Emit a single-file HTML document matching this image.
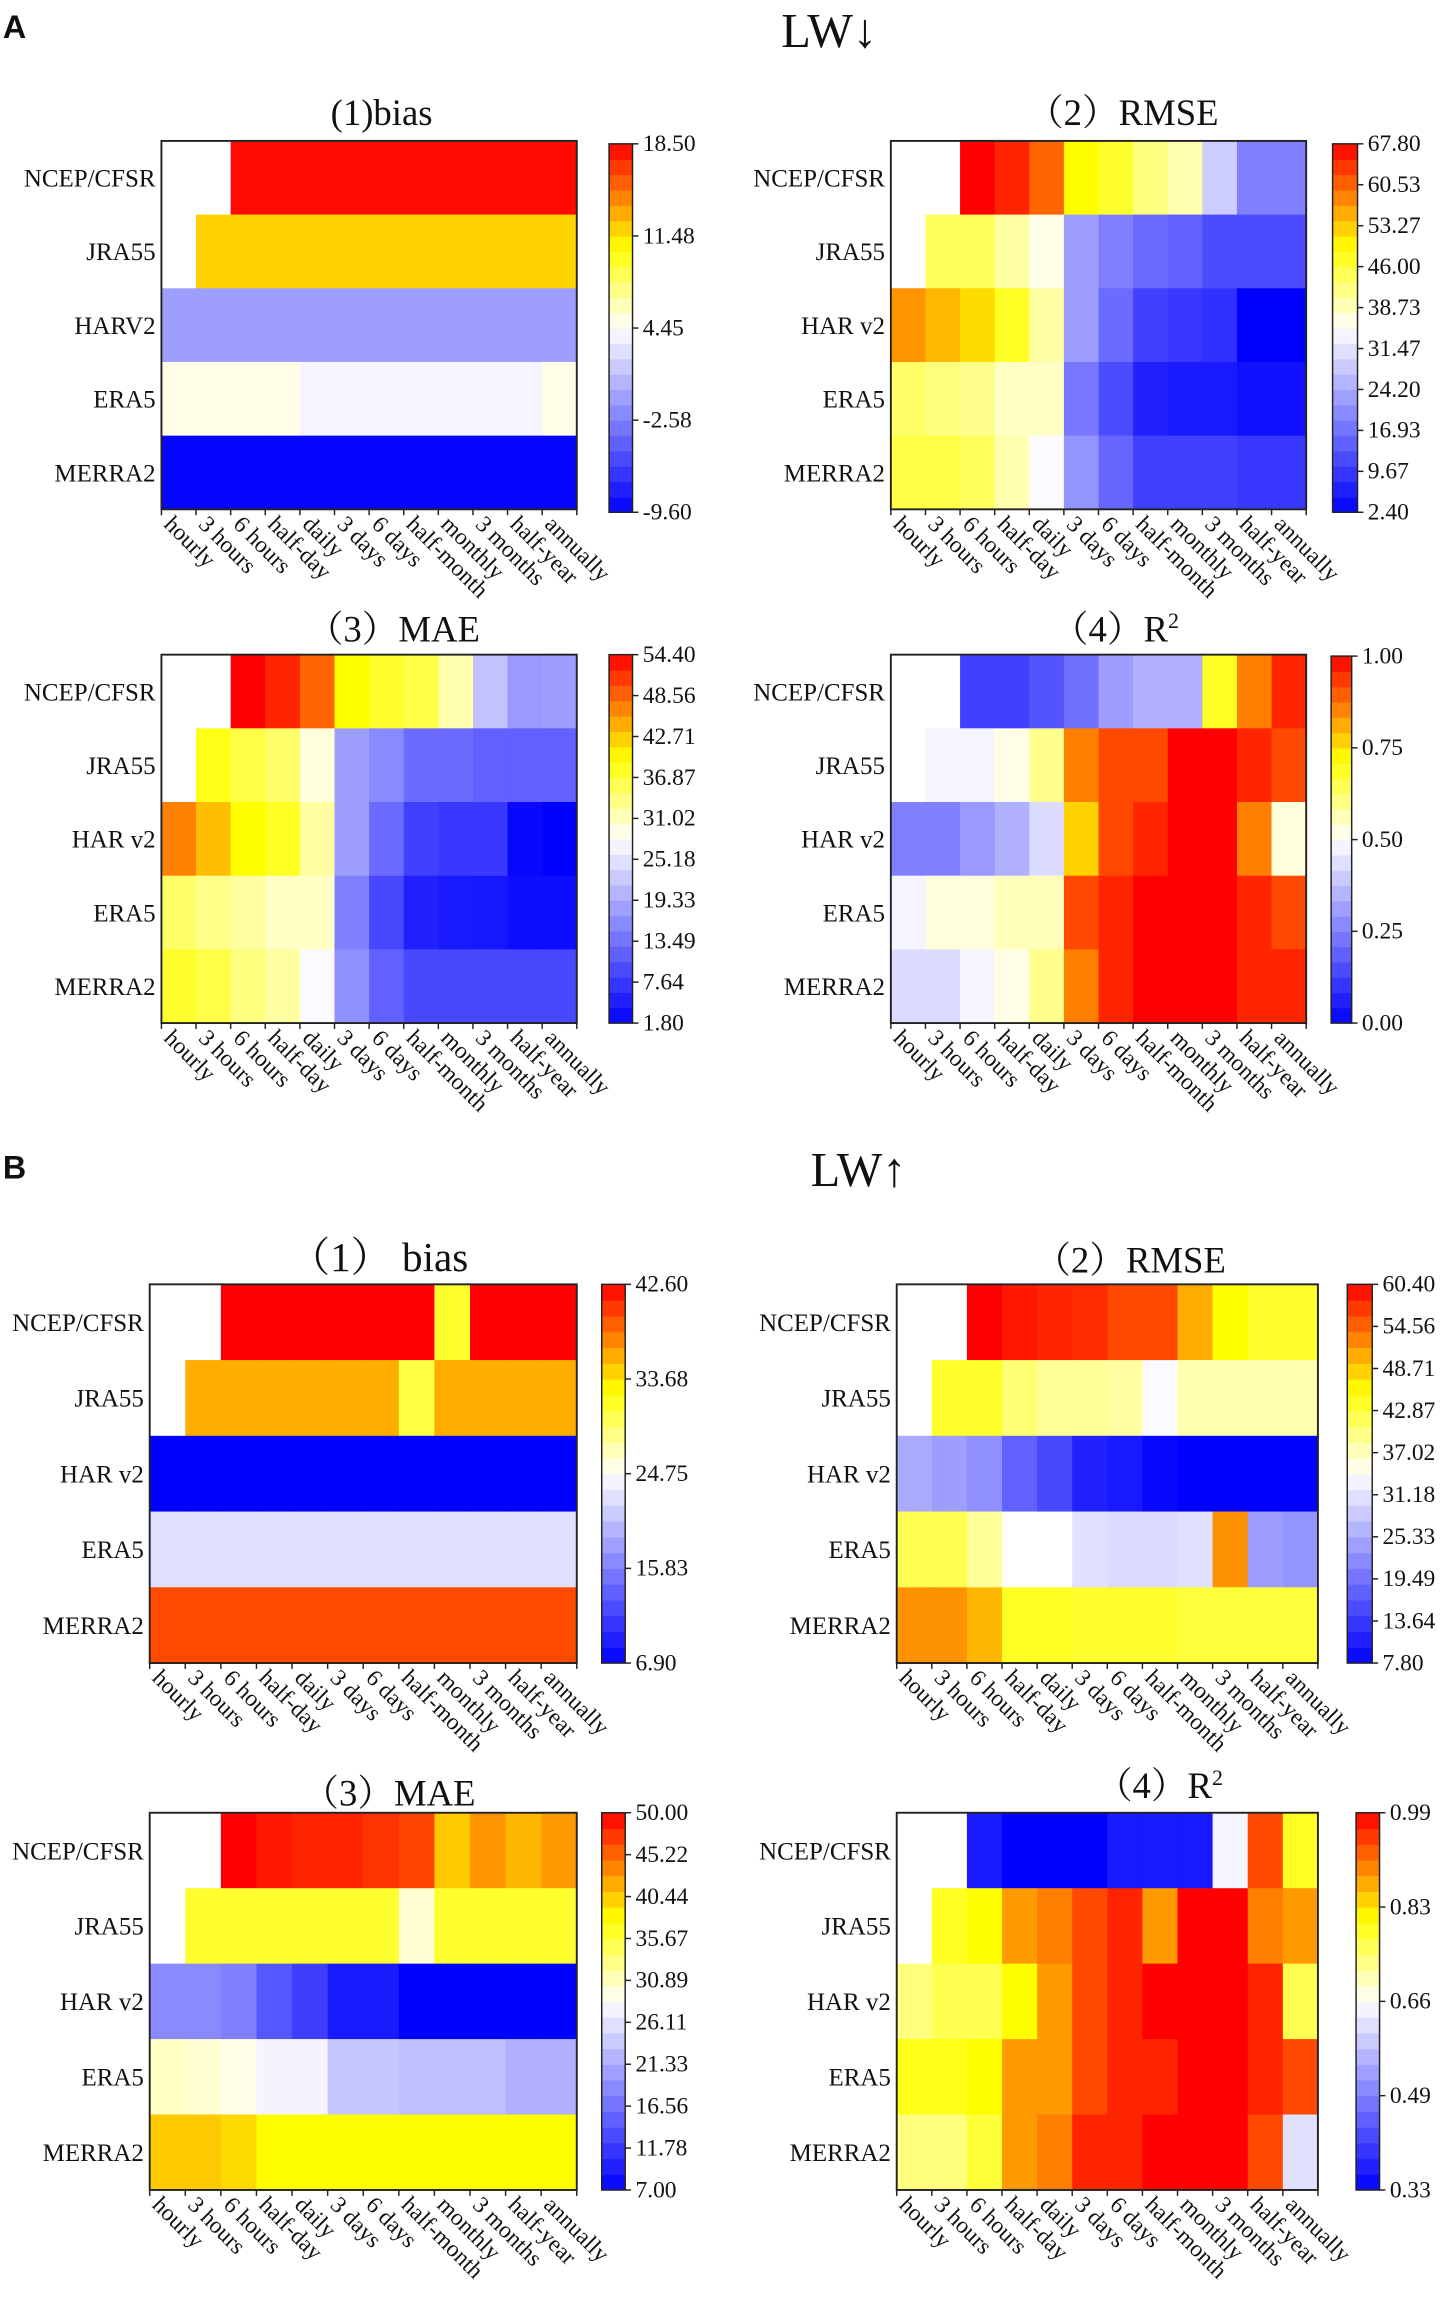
<!DOCTYPE html>
<html><head><meta charset="utf-8"><style>
html,body{margin:0;padding:0;background:#fff;}
svg{display:block;}
text{font-family:"Liberation Serif","Noto Serif CJK SC",serif;fill:#111;}
</style></head><body>
<svg id="fig" xmlns="http://www.w3.org/2000/svg" width="1450" height="2303" viewBox="0 0 988 1569" preserveAspectRatio="none">
<text x="2" y="26" style="font-family:'Liberation Sans',sans-serif;font-weight:bold;font-size:22px">A</text>
<text x="565" y="32" text-anchor="middle" font-size="33">LW↓</text>
<text x="2" y="803" style="font-family:'Liberation Sans',sans-serif;font-weight:bold;font-size:22px">B</text>
<text x="585" y="808" text-anchor="middle" font-size="33">LW↑</text>
</svg>
<script>
const categories = ["hourly","3 hours","6 hours","half-day","daily","3 days","6 days","half-month","monthly","3 months","half-year","annually"];
const rowsA1 = ["NCEP/CFSR","JRA55","HARV2","ERA5","MERRA2"];
const rowsStd = ["NCEP/CFSR","JRA55","HAR v2","ERA5","MERRA2"];
const N = null;

const a1Values = [
 [N,N,18.2,18.2,18.2,18.2,18.2,18.2,18.2,18.2,18.2,18.2],
 [N,12.0,12.0,12.0,12.0,12.0,12.0,12.0,12.0,12.0,12.0,12.0],
 [-0.9,-0.9,-0.9,-0.9,-0.9,-0.9,-0.9,-0.9,-0.9,-0.9,-0.9,-0.9],
 [5.0,5.0,5.0,5.0,3.9,3.9,3.9,3.9,3.9,3.9,3.9,5.0],
 [-9.3,-9.3,-9.3,-9.3,-9.3,-9.3,-9.3,-9.3,-9.3,-9.3,-9.3,-9.3]];
const a1Ticks = ["18.50","11.48","4.45","-2.58","-9.60"];

const a2Values = [
 [N,N,67.8,65.2,60.6,49.5,46.9,42.3,39.7,28.6,18.8,18.8],
 [N,44.3,44.3,40.3,36.4,22.7,18.8,16.1,14.8,12.2,12.2,12.2],
 [57.3,54.7,52.1,47.5,40.3,22.7,16.1,10.6,9.6,8.6,2.4,2.4],
 [43.6,42.3,41.6,38.4,38.4,17.8,12.2,6.6,5.7,5.7,4.4,4.4],
 [45.6,45.6,44.3,39.7,34.4,21.4,15.5,10.6,10.6,10.6,9.6,9.6]];
const a2Ticks = ["67.80","60.53","53.27","46.00","38.73","31.47","24.20","16.93","9.67","2.40"];

const a3Values = [
 [N,N,54.4,52.3,48.6,39.7,37.6,36.5,31.8,21.8,17.6,18.1],
 [N,38.6,36.5,35.0,29.7,18.1,16.0,12.8,12.8,11.8,11.8,11.8],
 [47.0,43.4,39.7,38.1,32.3,18.1,12.8,8.4,7.6,7.6,2.6,1.8],
 [35.0,33.4,32.3,30.7,30.7,15.0,9.2,5.2,4.4,4.2,3.1,3.1],
 [37.6,36.5,33.9,32.3,27.6,16.5,11.8,9.2,9.2,9.2,9.2,9.2]];
const a3Ticks = ["54.40","48.56","42.71","36.87","31.02","25.18","19.33","13.49","7.64","1.80"];

const a4Values = [
 [N,N,0.125,0.125,0.165,0.22,0.31,0.345,0.345,0.69,0.86,0.96],
 [N,0.48,0.48,0.52,0.60,0.86,0.92,0.92,1.0,1.0,0.96,0.92],
 [0.25,0.25,0.30,0.345,0.43,0.77,0.92,0.96,1.0,1.0,0.86,0.53],
 [0.48,0.53,0.53,0.56,0.56,0.92,0.96,1.0,1.0,1.0,0.96,0.92],
 [0.43,0.43,0.48,0.52,0.60,0.86,0.96,1.0,1.0,1.0,0.96,0.96]];
const a4Ticks = ["1.00","0.75","0.50","0.25","0.00"];

const b1Values = [
 [N,N,42.6,42.6,42.6,42.6,42.6,42.6,31.2,42.6,42.6,42.6],
 [N,35.8,35.8,35.8,35.8,35.8,35.8,30.5,35.8,35.8,35.8,35.8],
 [6.9,6.9,6.9,6.9,6.9,6.9,6.9,6.9,6.9,6.9,6.9,6.9],
 [22.6,22.6,22.6,22.6,22.6,22.6,22.6,22.6,22.6,22.6,22.6,22.6],
 [39.7,39.7,39.7,39.7,39.7,39.7,39.7,39.7,39.7,39.7,39.7,39.7]];
const b1Ticks = ["42.60","33.68","24.75","15.83","6.90"];

const b2Values = [
 [N,N,60.4,59.1,58.3,58.0,56.2,56.2,50.4,45.7,43.6,43.6],
 [N,43.6,43.6,40.4,38.8,38.8,38.3,33.6,37.8,37.8,37.8,37.8],
 [25.2,24.1,22.5,17.8,15.2,11.2,10.4,8.6,7.8,7.8,7.8,7.8],
 [42.0,42.0,38.8,34.1,34.1,31.0,30.4,30.4,31.0,52.0,24.1,23.1],
 [52.0,52.0,49.9,44.1,44.1,43.6,43.6,43.6,43.0,43.0,43.0,43.0]];
const b2Ticks = ["60.40","54.56","48.71","42.87","37.02","31.18","25.33","19.49","13.64","7.80"];

const b3Values = [
 [N,N,50.0,48.9,48.3,48.3,47.6,46.8,40.5,43.1,41.4,42.7],
 [N,36.2,36.2,36.2,36.2,36.2,36.2,30.2,36.2,36.2,36.2,36.2],
 [18.6,18.6,17.8,14.3,12.2,9.2,9.2,7.0,7.0,7.0,7.0,7.0],
 [30.7,30.2,29.4,27.6,27.6,23.8,23.8,23.1,23.1,23.1,21.8,21.8],
 [40.5,40.5,39.7,38.0,38.0,38.0,38.0,38.0,38.0,38.0,38.0,38.0]];
const b3Ticks = ["50.00","45.22","40.44","35.67","30.89","26.11","21.33","16.56","11.78","7.00"];

const b4Values = [
 [N,N,0.363,0.33,0.33,0.33,0.363,0.363,0.363,0.647,0.937,0.785],
 [N,0.785,0.805,0.878,0.898,0.937,0.964,0.878,0.99,0.99,0.898,0.878],
 [0.733,0.759,0.759,0.805,0.878,0.937,0.964,0.99,0.99,0.99,0.964,0.759],
 [0.792,0.792,0.805,0.878,0.878,0.937,0.964,0.964,0.99,0.99,0.964,0.937],
 [0.733,0.733,0.772,0.878,0.898,0.964,0.964,0.99,0.99,0.99,0.937,0.62]];
const b4Ticks = ["0.99","0.83","0.66","0.49","0.33"];

const NS = "http://www.w3.org/2000/svg";
const svg = document.getElementById("fig");
function mk(tag, attrs){const e=document.createElementNS(NS,tag);for(const k in attrs)e.setAttribute(k,attrs[k]);svg.appendChild(e);return e;}

const stops=[[0,[0,0,255]],[0.5,[255,255,255]],[0.72,[255,255,0]],[0.86,[255,128,0]],[1,[255,0,0]]];
function cmap(t){t=Math.max(0,Math.min(1,t));
 for(let i=1;i<stops.length;i++){if(t<=stops[i][0]){const a=stops[i-1],b=stops[i];const f=(t-a[0])/(b[0]-a[0]);
 const c=a[1].map((v,j)=>Math.round(v+(b[1][j]-v)*f));return `rgb(${c[0]},${c[1]},${c[2]})`;}}
 return "rgb(255,0,0)";}

function panel(p){
 const {id,title,tx,ty,ts,x0,y0,x1,y1,cx0,cx1,cy0,cy1,rows,vals,ticks,vmin,vmax}=p;
 const cw=(x1-x0)/categories.length, rh=(y1-y0)/rows.length;
 const xs=i=>x0+i*cw, ys=j=>y0+j*rh;
 const t=mk("text",{x:tx,y:ty,"text-anchor":"middle","font-size":ts||25});
 t.innerHTML=title;
 
 
 vals.forEach((row,j)=>row.forEach((v,i)=>{ if(v===null) return;
  const r=mk("rect",{x:xs(i),y:ys(j),width:cw+0.4,height:rh+0.4,fill:cmap((v-vmin)/(vmax-vmin))});
  
  
 }));
 const fr=mk("rect",{x:x0,y:y0,width:x1-x0,height:y1-y0,fill:"none",stroke:"#222","stroke-width":1.3});
 
 
 rows.forEach((r,j)=>{const l=mk("text",{x:x0-4,y:ys(j)+rh/2+6,"text-anchor":"end","font-size":17});l.textContent=r;
  
  });
 for(let i=0;i<=categories.length;i++){mk("line",{x1:xs(i),y1:y1,x2:xs(i),y2:y1+4,stroke:"#222","stroke-width":1});}
 categories.forEach((c,i)=>{const X=xs(i)+1,Y=y1+11;
  const l=mk("text",{x:X,y:Y,"font-size":16,transform:`rotate(45 ${X} ${Y})`});l.textContent=c;
  
  });
 const nb=24;
 for(let k=0;k<nb;k++){const h=(cy1-cy0)/nb;
  const b=mk("rect",{x:cx0,y:cy1-(k+1)*h,width:cx1-cx0,height:h+0.4,fill:cmap((k+0.5)/nb)});
  
  }
 const cf=mk("rect",{x:cx0,y:cy0,width:cx1-cx0,height:cy1-cy0,fill:"none",stroke:"#222","stroke-width":1});
 
 
 ticks.forEach((s,k)=>{const Y=cy0+k*(cy1-cy0)/(ticks.length-1);
  mk("line",{x1:cx1,y1:Y,x2:cx1+4,y2:Y,stroke:"#222","stroke-width":1});
  const l=mk("text",{x:cx1+7,y:Y+5,"font-size":16});l.textContent=s;
  
  });
}

panel({id:"a1",title:"(1)bias",tx:260,ty:85,x0:110,y0:96,x1:393,y1:347,cx0:415,cx1:431,cy0:98,cy1:349,rows:rowsA1,vals:a1Values,ticks:a1Ticks,vmin:-9.6,vmax:18.5});
panel({id:"a2",title:"（2）RMSE",tx:765,ty:85,x0:607,y0:96,x1:890,y1:347,cx0:908,cx1:925,cy0:98,cy1:349,rows:rowsStd,vals:a2Values,ticks:a2Ticks,vmin:2.4,vmax:67.8});
panel({id:"a3",title:"（3）MAE",tx:268,ty:437,x0:110,y0:446,x1:393,y1:697,cx0:415,cx1:431,cy0:446,cy1:697,rows:rowsStd,vals:a3Values,ticks:a3Ticks,vmin:1.8,vmax:54.4});
panel({id:"a4",title:"（4）R<tspan dy='-9' font-size='15'>2</tspan>",tx:760,ty:437,x0:607,y0:446,x1:890,y1:697,cx0:907,cx1:921,cy0:447,cy1:697,rows:rowsStd,vals:a4Values,ticks:a4Ticks,vmin:0,vmax:1});
panel({id:"b1",title:"（1） bias",tx:258,ty:866,ts:28,x0:102,y0:875,x1:393,y1:1133,cx0:410,cx1:426,cy0:875,cy1:1133,rows:rowsStd,vals:b1Values,ticks:b1Ticks,vmin:6.9,vmax:42.6});
panel({id:"b2",title:"（2）RMSE",tx:770,ty:867,x0:611,y0:875,x1:898,y1:1133,cx0:918,cx1:935,cy0:875,cy1:1133,rows:rowsStd,vals:b2Values,ticks:b2Ticks,vmin:7.8,vmax:60.4});
panel({id:"b3",title:"（3）MAE",tx:265,ty:1230,x0:102,y0:1235,x1:393,y1:1492,cx0:410,cx1:426,cy0:1235,cy1:1492,rows:rowsStd,vals:b3Values,ticks:b3Ticks,vmin:7.0,vmax:50.0});
panel({id:"b4",title:"（4）R<tspan dy='-9' font-size='15'>2</tspan>",tx:790,ty:1225,x0:611,y0:1235,x1:898,y1:1492,cx0:924,cx1:940,cy0:1235,cy1:1492,rows:rowsStd,vals:b4Values,ticks:b4Ticks,vmin:0.33,vmax:0.99});
</script>
</body></html>
